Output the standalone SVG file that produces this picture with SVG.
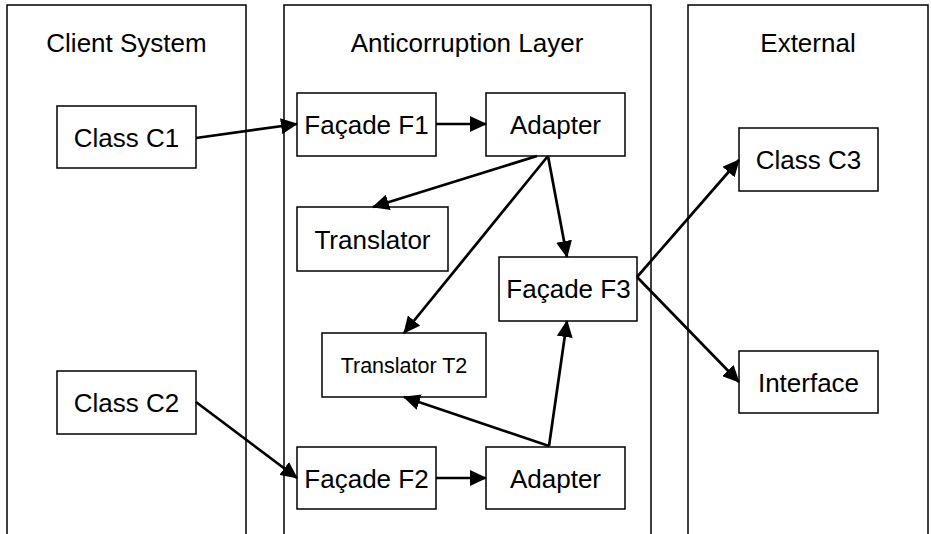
<svg xmlns="http://www.w3.org/2000/svg" width="931" height="534" viewBox="0 0 931 534">
<style>
  .panel { fill: none; stroke: #000; stroke-width: 1.5; }
  .box { fill: #fff; stroke: #000; stroke-width: 1.5; }
  .t { font-family: "Liberation Sans", Arial, sans-serif; font-size: 26px; fill: #000; text-anchor: middle; }
  .ts { font-size: 21.5px; }
  .c line { stroke: #000; stroke-width: 2.7; marker-end: url(#ah); }
</style>
<defs>
  <marker id="ah" markerUnits="userSpaceOnUse" markerWidth="17" markerHeight="16" refX="16" refY="8" orient="auto" viewBox="0 0 17 16">
    <path d="M0,0 L17,8 L0,16 z" fill="#000"/>
  </marker>
</defs>
<g id="panel-client">
  <path class="panel" d="M7,540 V5 H246 V540"/>
  <text class="t" x="126.5" y="52">Client System</text>
</g>
<g id="panel-acl">
  <path class="panel" d="M284,540 V5 H651 V540"/>
  <text class="t" x="467" y="52">Anticorruption Layer</text>
</g>
<g id="panel-external">
  <path class="panel" d="M688,540 V5 H928 V540"/>
  <text class="t" x="808" y="52">External</text>
</g>
<g id="class-c1">
  <rect class="box" x="57" y="106" width="139" height="62"/>
  <text class="t" x="126.5" y="147">Class C1</text>
</g>
<g id="class-c2">
  <rect class="box" x="57" y="371" width="139" height="63"/>
  <text class="t" x="126.5" y="412">Class C2</text>
</g>
<g id="facade-f1">
  <rect class="box" x="297" y="93" width="139" height="63"/>
  <text class="t" x="366.5" y="134">Façade F1</text>
</g>
<g id="adapter-1">
  <rect class="box" x="486" y="93" width="139" height="63"/>
  <text class="t" x="555.5" y="134">Adapter</text>
</g>
<g id="translator">
  <rect class="box" x="297" y="207" width="151" height="64"/>
  <text class="t" x="372.5" y="248.5">Translator</text>
</g>
<g id="facade-f3">
  <rect class="box" x="499" y="257" width="138" height="64"/>
  <text class="t" x="568.5" y="298">Façade F3</text>
</g>
<g id="translator-t2">
  <rect class="box" x="322" y="333" width="164" height="64"/>
  <text class="t ts" x="404" y="372.5">Translator T2</text>
</g>
<g id="facade-f2">
  <rect class="box" x="297" y="447" width="139" height="62"/>
  <text class="t" x="366.5" y="487.5">Façade F2</text>
</g>
<g id="adapter-2">
  <rect class="box" x="486" y="447" width="139" height="62"/>
  <text class="t" x="555.5" y="487.5">Adapter</text>
</g>
<g id="class-c3">
  <rect class="box" x="739" y="128" width="139" height="63"/>
  <text class="t" x="808.5" y="168.5">Class C3</text>
</g>
<g id="interface">
  <rect class="box" x="739" y="351" width="139" height="62"/>
  <text class="t" x="808.5" y="391.5">Interface</text>
</g>
<g id="connectors" class="c">
  <line x1="196" y1="138" x2="297" y2="124"/>
  <line x1="436" y1="124" x2="486" y2="124"/>
  <line x1="537" y1="156" x2="373" y2="207"/>
  <line x1="548" y1="156" x2="404" y2="333"/>
  <line x1="548" y1="156" x2="567" y2="257"/>
  <line x1="637" y1="277" x2="739" y2="160"/>
  <line x1="637" y1="277" x2="739" y2="382"/>
  <line x1="196" y1="402" x2="297" y2="478"/>
  <line x1="436" y1="478" x2="486" y2="478"/>
  <line x1="549" y1="446" x2="404" y2="397"/>
  <line x1="549" y1="446" x2="567" y2="321"/>
</g>
</svg>
